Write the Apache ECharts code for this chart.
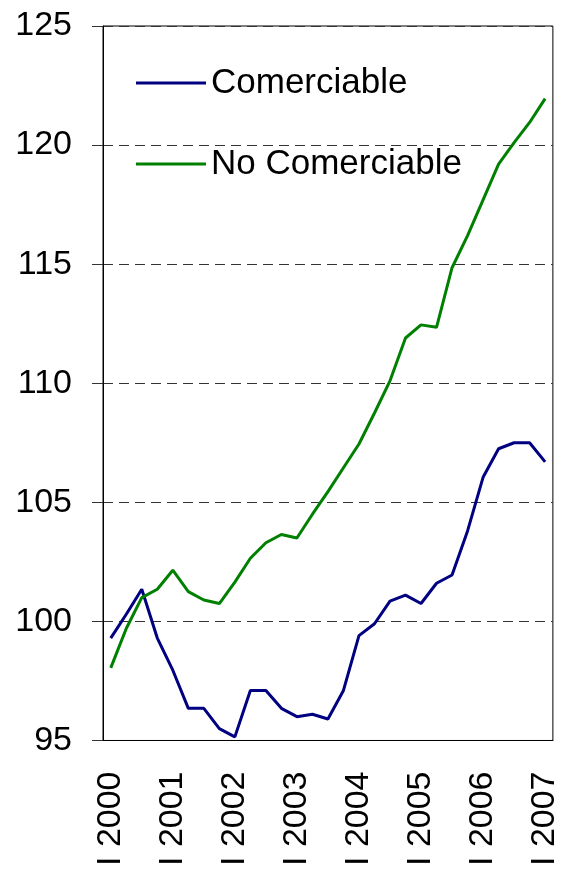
<!DOCTYPE html>
<html>
<head>
<meta charset="utf-8">
<script src="https://cdn.jsdelivr.net/npm/echarts@6/dist/echarts.min.js"></script>
<style>
    html, body { margin: 0; padding: 0; background: #fff; }
    #chart { width: 562px; height: 869px; }
</style>
</head>
<body>
<div id="chart"></div>
<script>
// trimestres
const quarters = [
    'I 2000', 'II 2000', 'III 2000', 'IV 2000',
    'I 2001', 'II 2001', 'III 2001', 'IV 2001',
    'I 2002', 'II 2002', 'III 2002', 'IV 2002',
    'I 2003', 'II 2003', 'III 2003', 'IV 2003',
    'I 2004', 'II 2004', 'III 2004', 'IV 2004',
    'I 2005', 'II 2005', 'III 2005', 'IV 2005',
    'I 2006', 'II 2006', 'III 2006', 'IV 2006',
    'I 2007'
]
// Comerciable
const comerciable = [
    99.3, 100.3, 101.35, 99.3, 97.95, 96.35, 96.35, 95.5,
    95.15, 97.1, 97.1, 96.35, 96.0, 96.1, 95.9, 97.1,
    99.4, 99.9, 100.85, 101.1, 100.75, 101.6, 101.95, 103.8,
    106.05, 107.25, 107.5, 107.5, 106.7
]
// No Comerciable
const noComerciable = [
    98.05, 99.7, 101.0, 101.35, 102.15, 101.25, 100.9, 100.75,
    101.65, 102.65, 103.3, 103.65, 103.5, 104.5, 105.45, 106.45,
    107.45, 108.75, 110.1, 111.9, 112.45, 112.35, 114.85, 116.2,
    117.7, 119.2, 120.1, 120.95, 121.95
]
const seriesNames = ['Comerciable', 'No Comerciable']
const seriesColors = ['#000080', '#008000']

const font = '"Liberation Sans", Arial, sans-serif'

const chart = echarts.init(document.getElementById('chart'), null, { renderer: 'canvas' })

const option = {
    animation: false,
    backgroundColor: '#fff',
    grid: {
        left: 103,
        right: 2,
        top: 26,
        bottom: 125,
        show: true,
        borderColor: '#000',
        borderWidth: 1
    },
    legend: {
        orient: 'vertical',
        left: 131,
        top: 58,
        itemGap: 41,
        itemWidth: 70,
        itemHeight: 3,
        icon: 'rect',
        textStyle: {
            fontFamily: font,
            fontSize: 35,
            lineHeight: 40,
            color: '#000'
        },
        data: seriesNames
    },
    xAxis: {
        type: 'category',
        data: quarters,
        boundaryGap: true,
        axisLine: { lineStyle: { color: '#000', width: 1 } },
        axisTick: {
            interval: 0,
            length: 12,
            lineStyle: { color: '#333' }
        },
        axisLabel: {
            interval: 3,
            rotate: 90,
            margin: 31,
            fontFamily: font,
            fontSize: 34,
            color: '#000'
        },
        splitLine: { show: false }
    },
    yAxis: {
        type: 'value',
        min: 95,
        max: 125,
        interval: 5,
        axisLine: { show: true, lineStyle: { color: '#000', width: 1 } },
        axisTick: {
            show: true,
            length: 11,
            lineStyle: { color: '#333' }
        },
        axisLabel: {
            margin: 31,
            fontFamily: font,
            fontSize: 34,
            color: '#000'
        },
        splitLine: {
            lineStyle: {
                type: [10, 6],
                color: '#333',
                width: 1
            }
        }
    },
    series: [
        {
            name: seriesNames[0],
            type: 'line',
            data: comerciable,
            symbol: 'none',
            lineStyle: { color: seriesColors[0], width: 3 },
            itemStyle: { color: seriesColors[0] }
        },
        {
            name: seriesNames[1],
            type: 'line',
            data: noComerciable,
            symbol: 'none',
            lineStyle: { color: seriesColors[1], width: 3 },
            itemStyle: { color: seriesColors[1] }
        }
    ]
}

chart.setOption(option)
</script>
</body>
</html>
